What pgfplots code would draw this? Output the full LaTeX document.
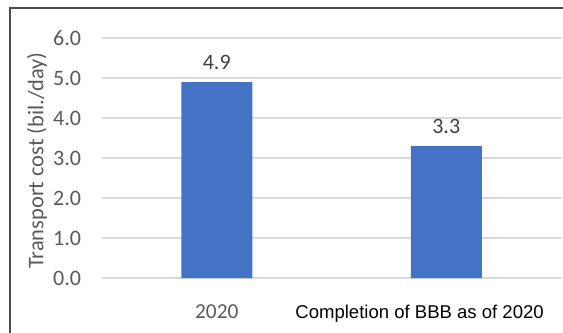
\documentclass[border=0pt]{standalone}
\usepackage{pgfplots}
\pgfplotsset{compat=1.18}
\usepackage{fontspec}
\setmainfont{Carlito}
\newfontfamily\arialf{Liberation Sans}
\definecolor{barblue}{HTML}{4472C4}
\definecolor{gridgray}{HTML}{D9D9D9}
\definecolor{ticktxt}{HTML}{595959}
\definecolor{lbltxt}{HTML}{404040}
\begin{document}
\begin{tikzpicture}
\useasboundingbox (0,0) rectangle (422.25pt,249pt);
\draw[black!70, line width=0.8pt] (7.5pt,-5pt) -- (7.5pt,243pt) -- (430pt,243pt);
\begin{axis}[
  at={(76.5pt,40.5pt)}, anchor=south west,
  scale only axis, width=344.25pt, height=180pt,
  xmin=-0.5, xmax=1.5, ymin=0, ymax=6,
  ybar, bar width=53.25pt,
  axis line style={draw=none},
  major tick length=0pt,
  ytick={0,1,2,3,4,5,6},
  ymajorgrids, grid style={gridgray, line width=0.8pt},
  xtick=data,
  xticklabels={2020,{\arialf\fontsize{13.9}{16}\selectfont\color{black}\kern-40pt Completion of BBB as of 2020}},
  xticklabel style={anchor=base, yshift=-30pt, font=\fontsize{16}{19}\selectfont, text=ticktxt},
  yticklabel style={anchor=east, inner sep=0pt, xshift=-15.5pt, font=\fontsize{16.5}{19}\selectfont, text=ticktxt,
    /pgf/number format/.cd, fixed, fixed zerofill, precision=1, assume math mode=true},
  ylabel={Transport cost (bil./day)},
  every axis y label/.style={at={(axis description cs:-0.1416,0.49)}, rotate=90, anchor=center, font=\fontsize{16.8}{19}\selectfont, text=ticktxt},
  nodes near coords,
  nodes near coords style={anchor=center, yshift=15pt, font=\fontsize{16.5}{19}\selectfont, text=lbltxt,
    /pgf/number format/.cd, fixed, fixed zerofill, precision=1, assume math mode=true},
  clip=false,
]
\draw[gridgray, line width=0.8pt] (axis cs:-0.5,0) -- (axis cs:1.5,0);
\addplot[fill=barblue, draw=none] coordinates {(0,4.9) (1,3.3)};
\end{axis}
\end{tikzpicture}
\end{document}
